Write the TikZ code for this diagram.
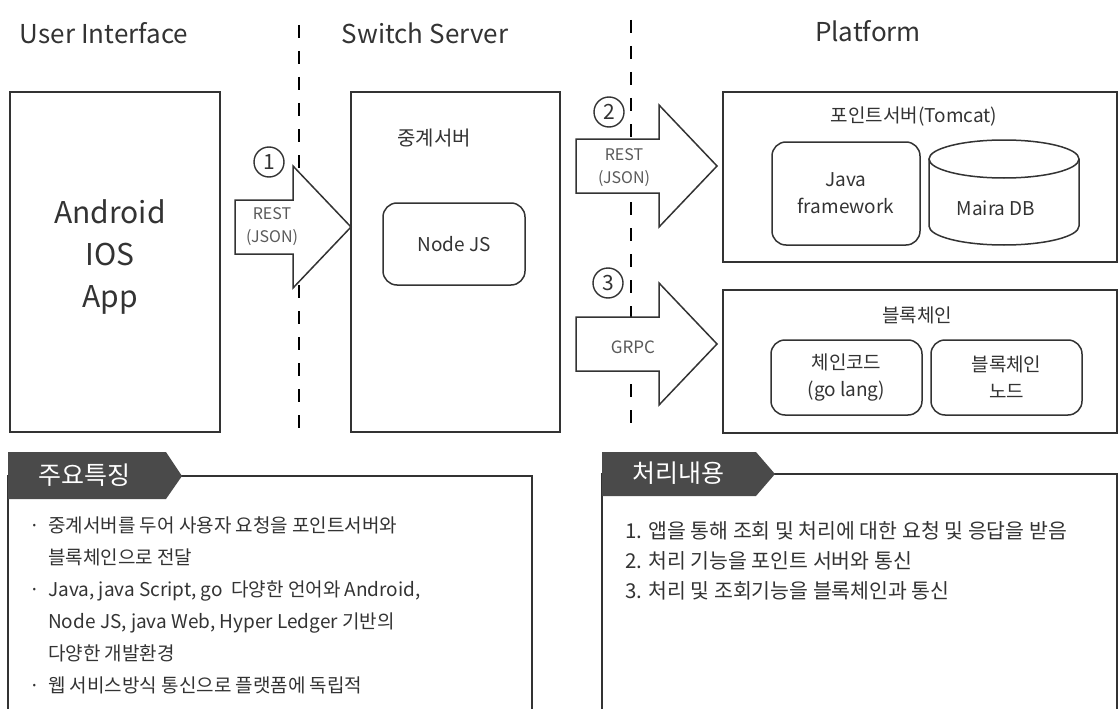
\documentclass[tikz,border=0pt]{standalone}
\usepackage{fontspec}
\setmainfont{Noto Sans CJK KR}
\definecolor{ink}{HTML}{333333}
\definecolor{tabgray}{HTML}{4A4A4A}
\definecolor{lbl}{HTML}{5A5A5A}
\newcommand{\fsz}[2]{\fontsize{#1}{#2}\selectfont}
\newcommand{\blockarrow}[3]{% tail x, centre y, tip x
 \draw[fatarrow] (#1,#2-27) -- (#3-58,#2-27) -- (#3-58,#2-61) -- (#3,#2)
   -- (#3-58,#2+61) -- (#3-58,#2+27) -- (#1,#2+27) -- cycle;}
\tikzset{
 frame/.style={draw=ink,line width=1.8pt,inner sep=0pt},
 subbox/.style={draw=ink,line width=1.5pt,rounded corners=14pt,inner sep=0pt,align=center,text=ink,font=\fsz{19}{27}},
 fatarrow/.style={draw=ink,line width=1.5pt,fill=white,line join=miter},
 divider/.style={draw=black,line width=2pt,dash pattern=on 13pt off 13pt},
 num/.style={circle,draw=ink,fill=white,line width=1.4pt,minimum size=30pt,inner sep=0pt,text=ink,font=\fsz{21}{21}},
 title/.style={text=ink,font=\fsz{26}{30}},
 lab/.style={text=ink,font=\fsz{19}{27},align=center},
}
\begin{document}
\begin{tikzpicture}[x=1pt,y=-1pt]
 \useasboundingbox (0,0) rectangle (1120,709);
 % column titles
 \node[title] (tui) at (104,33) {User Interface};
 \node[title] (tsw) at (425,33) {Switch Server};
 \node[title] (tpf) at (868,31) {Platform};
 % separators
 \draw[divider] (299,25) -- (299,432);
 \draw[divider] (631,20) -- (631,432);
 % user interface
 \node[frame,minimum width=210pt,minimum height=340pt] (ui) at (115,262) {};
 \node[text=ink,font=\fsz{30}{42},align=center] (app) at (110,257) {Android\\IOS\\App};
 % switch server
 \node[frame,minimum width=209pt,minimum height=340pt] (relay) at (455.5,262) {};
 \node[lab,font=\fsz{20}{27}] (relaylab) at (434,138) {중계서버};
 \node[subbox,minimum width=142pt,minimum height=82pt] (nodejs) at (454,244) {Node JS};
 % point server
 \node[frame,minimum width=394pt,minimum height=170pt] (point) at (920,177) {};
 \node[lab] (pointlab) at (914,117) {포인트서버(Tomcat)};
 \node[subbox,minimum width=148pt,minimum height=103pt] (java) at (846,193.5) {Java\\framework};
 \draw[draw=ink,line width=1.5pt] (929,159) -- (929,226) arc(180:0:75 and 19) -- (1079,159);
 \draw[draw=ink,line width=1.5pt] (1004,159) ellipse (75 and 19);
 \node[lab] (maria) at (996,208) {Maira DB};
 % blockchain
 \node[frame,minimum width=394pt,minimum height=143pt] (chain) at (920,361.5) {};
 \node[lab] (chainlab) at (917,315) {블록체인};
 \node[subbox,minimum width=151pt,minimum height=75pt] (code) at (846.5,377.5) {체인코드\\(go lang)};
 \node[subbox,minimum width=151pt,minimum height=75pt] (bnode) at (1006.5,377.5) {블록체인\\노드};
 % protocol arrows
 \blockarrow{235}{227}{351}
 \blockarrow{576}{166}{717}
 \blockarrow{576}{344}{717}
 \node[text=lbl,font=\fsz{16}{23},align=center] (rest1) at (272,227) {REST\\(JSON)};
 \node[text=lbl,font=\fsz{16}{23},align=center] (rest2) at (624,168) {REST\\(JSON)};
 \node[text=lbl,font=\fsz{17}{23}] (grpc) at (633,347) {GRPC};
 \node[num] (n1) at (269,162) {1};
 \node[num] (n2) at (609,112) {2};
 \node[num] (n3) at (608,283) {3};
 % main features
 \draw[frame] (8,476) rectangle (532,720);
 \fill[tabgray] (8,452) -- (166,452) -- (182,476) -- (166,499) -- (8,499) -- cycle;
 \node[text=white,font=\fsz{25}{25}] (feat) at (84,475) {주요특징};
 \node[anchor=north west,align=left,inner sep=0pt,text=ink,font=\fsz{19}{32}] (featlist) at (29,517)
  {\makebox[19pt][l]{·}중계서버를 두어 사용자 요청을 포인트서버와\\
   \hspace*{19pt}블록체인으로 전달\\
   \makebox[19pt][l]{·}Java, java Script, go\ \ 다양한 언어와 Android,\\
   \hspace*{19pt}Node JS, java Web, Hyper Ledger 기반의\\
   \hspace*{19pt}다양한 개발환경\\
   \makebox[19pt][l]{·}웹 서비스방식 통신으로 플랫폼에 독립적};
 % processing
 \draw[frame] (602,474) rectangle (1117,720);
 \fill[tabgray] (602,452) -- (756,452) -- (775,474) -- (756,496) -- (602,496) -- cycle;
 \node[text=white,font=\fsz{25}{25}] (proc) at (678,473) {처리내용};
 \node[anchor=north west,align=left,inner sep=0pt,text=ink,font=\fsz{20.5}{30}] (proclist) at (625,521)
  {1. 앱을 통해 조회 및 처리에 대한 요청 및 응답을 받음\\
   2. 처리 기능을 포인트 서버와 통신\\
   3. 처리 및 조회기능을 블록체인과 통신};
\end{tikzpicture}
\end{document}
